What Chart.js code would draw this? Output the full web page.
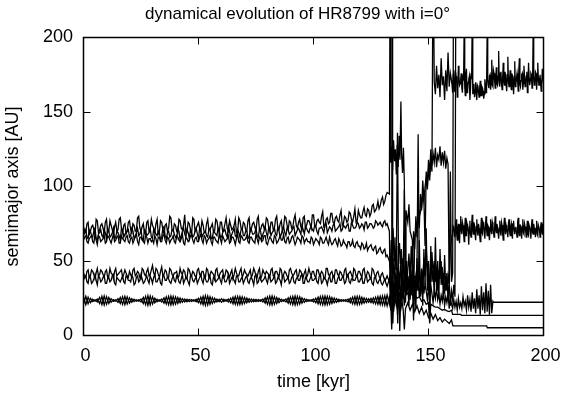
<!DOCTYPE html>
<html>
<head>
<meta charset="utf-8">
<script src="https://cdn.jsdelivr.net/npm/chart.js@4.4.1/dist/chart.umd.min.js"></script>
<style>
  body { margin: 0; background: #fff; }
  canvas { display: block; }
</style>
</head>
<body>
<canvas id="chart" width="561" height="393"></canvas>
<script>
// tick labels
const xTicks = [0, 50, 100, 150, 200];
const yTicks = [0, 50, 100, 150, 200];

// stable part, one sample per kyr (0..132) plus half-kyr samples in the *H arrays
const earlyTime = Array.from({length: 133}, (_, i) => i);
// after the instability, two samples per kyr (160..200) plus quarter samples in *LateH
const lateTime = Array.from({length: 81}, (_, i) => 160 + i * 0.5);

// outer band, upper track
const bTop = [
  73,69,76,70,74,68,77,71,75,69, 78,70,74,68,76,71,79,69,75,70,
  77,69,74,71,80,70,75,68,77,71, 74,69,78,70,76,68,75,72,79,70,
  74,69,77,71,81,70,75,68,78,72, 76,70,74,69,78,71,75,70,77,69,
  76,71,79,70,74,72,78,69,77,71, 75,70,79,72,76,70,80,71,75,73,
  78,70,76,72,80,71,77,73,79,71, 76,73,81,72,78,71,80,74,77,72,
  81,73,78,75,83,74,79,76,82,75, 80,76,84,75,79,77,82,76,85,77,
  81,79,86,80,84,82,88,84,90,87, 93,90,96
];
const bTopH = [
  70,75,68,73,71,78,69,74,72,76, 69,77,71,73,70,78,72,74,68,76,
  71,75,70,79,72,73,69,76,70,78, 72,75,68,77,71,74,70,80,71,75,
  70,78,72,74,69,76,71,79,70,74, 72,77,69,75,71,73,70,78,72,76,
  70,75,72,77,71,74,69,79,72,76, 71,77,70,75,73,78,71,74,72,79,
  73,76,71,78,72,75,70,80,74,77, 72,78,74,76,73,79,72,77,75,81,
  74,77,76,80,73,78,75,82,76,79, 77,81,74,80,76,83,78,80,76,84,
  79,83,81,85,80,87,83,86,85,91, 88,94
];
const bTopChaos = [
  [133,95],[133.3,262],[133.6,116],[134,127],[134.4,111],[134.8,131],[135.2,117],[135.6,125],
  [136,108],[136.4,128],[136.8,113],[137.2,134],[137.6,118],[138,157],[138.3,122],[138.7,109],
  [139.1,126],[139.5,103],[139.8,30],[140.2,84],[141,76],[141.5,88],[142,70],[143,64],[143.5,20],
  [144,66],[145,72],[146,80],[147,86],[147.5,94],[148,90],[148.5,100],[149,106],[149.5,98],
  [150,112],[150.5,104],[151,118],[151.5,110],[152,262],[152.5,170],[153,162],[153.5,181],
  [154,166],[154.5,175],[155,160],[155.5,186],[156,168],[156.5,174],[157,158],[157.5,178],
  [158,164],[158.5,190],[159,167],[159.5,176]
];
const bTopLate = [
  171,163,178,166,174,160,181,168,172,166, 175,205,161,179,164,172,158,176,210,165,
  160,170,158,167,160,171,161,166,159,172, 163,203,168,174,165,185,167,176,166,180,
  168,191,167,177,165,183,168,175,164,187, 167,178,165,174,162,184,168,176,164,186,
  167,175,165,181,167,174,163,183,168,176, 166,204,168,177,165,183,168,175,164,179,
  169
];
const bTopLateH = [
  168,175,164,177,170,165,174,169,176,163, 171,167,175,163,170,174,165,172,162,169,
  165,162,168,163,166,161,167,164,162,168, 169,172,166,175,170,168,178,171,173,169,
  174,170,176,169,173,171,177,168,175,170, 172,169,176,170,174,167,173,171,177,169,
  171,176,169,174,170,177,168,173,171,175, 170,174,169,176,171,173,168,175,170,173
];

// outer band, middle track
const bMid = [
  67,71,65,70,66,72,64,69,67,71, 65,70,67,72,66,69,64,71,68,70,
  66,72,65,69,67,71,64,70,68,72, 65,70,67,69,66,73,65,70,67,71,
  66,72,64,70,68,71,65,69,67,72, 65,71,68,70,66,72,65,69,67,71,
  66,70,68,73,65,70,67,71,66,72, 67,70,65,71,68,72,66,70,68,73,
  66,71,69,72,67,70,68,73,67,71, 69,72,67,71,70,74,68,72,69,73,
  70,73,68,72,71,74,69,73,70,75, 71,73,70,74,72,75,70,74,72,76,
  72,75,71,76,73,75,72,77,74,76, 73,77,75
];
const bMidH = [
  69,66,71,67,70,65,68,71,66,69, 72,66,69,65,70,67,72,66,69,71,
  67,70,66,72,68,65,71,67,69,66, 71,68,70,64,72,67,69,66,71,68,
  65,70,67,72,66,69,71,66,70,68, 72,66,69,67,71,65,70,68,72,66,
  69,71,66,70,68,72,66,69,71,67, 70,66,72,68,69,67,71,65,70,69,
  72,67,70,68,73,66,71,69,72,68, 70,73,69,72,68,71,73,70,72,71,
  74,70,72,73,69,75,71,72,74,70, 72,75,71,73,74,70,76,72,73,75,
  73,74,76,72,75,74,73,76,75,74, 76,74
];
const bMidChaos = [
  [133,70],[133.4,20],[133.8,64],[134.2,58],[134.6,72],[135,50],[135.4,66],[135.8,44],[136.2,60],
  [136.6,8],[137,55],[137.4,62],[137.8,48],[138.2,58],[138.6,40],[139,52],[139.5,35],[140,48],
  [140.5,30],[141,44],[141.5,55],[142,38],[142.5,60],[143,46],[143.5,70],[144,58],[144.5,80],
  [145,66],[145.5,88],[146,72],[146.5,95],[147,84],[147.5,104],[148,92],[148.5,60],[149,110],
  [149.5,100],[150,118],[150.5,108],[151,125],[151.5,114],[152,122],[152.5,116],[153,126],
  [153.5,113],[154,121],[154.5,118],[155,127],[155.5,114],[156,123],[156.5,116],[157,124],
  [157.5,112],[158,119],[158.5,115],[159,32],[159.5,58]
];
const bMidLate = [
  64,70,72,66,78,64,75,62,80,68, 74,63,79,67,73,61,77,66,81,68,
  74,64,78,67,72,63,79,68,75,65, 80,67,73,64,78,68,74,66,80,69,
  73,65,77,67,74,64,79,68,72,66, 78,67,75,65,77,68,73,66,79,67,
  74,65,78,68,73,66,77,67,74,65, 78,68,72,66,77,67,74,66,76,68,
  72
];
const bMidLateH = [
  67,73,69,75,68,72,66,74,70,76, 69,72,67,75,70,73,68,74,71,76,
  68,73,70,75,67,72,69,76,70,73, 71,74,68,72,70,76,69,73,71,75,
  69,72,70,76,68,73,71,74,69,75, 70,73,68,75,71,72,69,76,70,74,
  71,73,69,75,70,72,68,74,71,73, 69,75,70,72,68,74,71,73,70,75
];

// outer band, lower track
const bLow = [
  64,67,62,66,63,68,61,66,64,67, 63,66,62,68,64,67,62,65,63,67,
  62,66,64,68,61,66,63,67,62,65, 64,67,61,66,63,68,62,65,64,67,
  62,66,63,68,61,65,64,67,62,66, 63,68,62,66,64,67,61,66,63,68,
  62,65,64,67,63,66,61,68,62,66, 64,67,62,66,63,68,62,65,64,67,
  61,66,63,67,62,65,64,68,62,66, 63,67,61,66,64,67,62,65,63,66,
  61,65,63,66,62,64,63,66,61,64, 62,65,60,64,61,63,60,64,59,63,
  60,62,58,62,59,61,57,60,56,59, 55,58,54
];
const bLowH = [
  66,63,65,67,62,64,67,63,65,62, 67,64,65,63,66,62,67,64,66,63,
  65,62,67,63,66,64,62,66,65,63, 62,65,66,63,67,64,66,62,65,63,
  67,64,65,62,66,63,67,64,65,63, 66,64,67,62,65,63,66,64,62,65,
  67,63,65,62,66,64,65,63,67,64, 65,63,66,64,62,65,66,63,67,62,
  64,65,62,66,63,67,64,63,65,62, 66,64,63,65,62,66,64,63,62,65,
  63,64,61,65,62,66,61,63,62,65, 60,63,61,62,59,63,61,60,62,60,
  58,61,59,57,60,58,59,55,58,56, 57,53
];
const bLowChaos = [
  [133,50],[133.5,44],[134,57],[134.5,38],[135,52],[135.5,30],[136,47],[136.5,136],[137,44],
  [137.5,36],[138,50],[138.5,26],[139,42],[139.5,98],[140,38],[140.5,46],[141,30],[141.5,40],
  [142,24],[142.5,36],[143,44],[143.5,28],[144,40],[144.5,32],[145,48],[145.5,135],[146,40],
  [146.5,30],[147,45],[147.5,36],[148,52],[148.5,40],[149,58],[149.5,44],[150,50],[150.5,8],
  [151,46],[151.5,56],[152,40],[152.5,50],[153,36],[153.5,46],[154,30],[154.5,44],[155,38],
  [155.5,50],[156,34],[156.5,42],[157,28],[157.5,38],[158,30],[158.5,40],[159,35],[159.5,110],
  [160,36],[160.5,42],[161,320]
];

// middle band, upper track
const cHigh = [
  42,39,44,40,43,38,45,41,43,39, 44,40,42,38,45,41,43,39,44,40,
  43,39,45,41,42,38,44,40,45,41, 47,40,44,39,46,41,43,39,44,40,
  42,39,45,41,43,38,44,40,42,39, 45,40,43,39,44,41,42,38,45,40,
  43,39,44,41,42,38,45,40,43,39, 44,41,42,39,45,40,43,38,44,41,
  42,39,45,40,43,39,44,41,42,38, 45,40,43,39,44,41,42,39,45,40,
  43,39,44,41,42,38,45,40,43,39, 44,40,42,39,45,41,43,38,44,40,
  43,39,45,40,42,38,44,39,43,38, 42,37,40
];
const cHighH = [
  40,43,39,44,41,42,40,44,41,43, 39,45,41,43,40,42,44,41,42,39,
  41,44,40,43,39,45,41,43,40,44, 42,45,41,43,40,44,39,45,41,42,
  43,40,42,44,39,45,41,43,40,44, 41,43,40,45,39,43,41,44,40,42,
  44,40,43,39,44,41,42,40,45,41, 42,40,44,41,43,39,45,40,42,43,
  41,44,40,43,41,45,39,43,40,44, 42,41,44,40,43,39,44,41,42,43,
  40,44,41,43,39,45,41,42,40,44, 41,43,40,44,39,42,41,45,40,43,
  41,44,40,43,39,45,41,42,40,41, 39,38
];
const cHighChaos = [
  [133,36],[133.5,44],[134,30],[134.5,42],[135,26],[135.5,38],[136,33],[136.5,45],[137,28],
  [137.5,40],[138,22],[138.5,36],[139,30],[139.5,42],[140,34],[140.5,27],[141,38],[141.5,31],
  [142,40],[142.5,28],[143,36],[143.5,10],[144,34],[144.5,40],[145,30],[145.5,38],[146,26],
  [146.5,34],[147,30],[147.5,37],[148,28],[148.5,35],[149,30],[149.5,24],[150,32],[150.5,26],
  [151,34],[151.5,28],[152,22],[152.5,30],[153,25],[153.5,32],[154,24],[154.5,28],[155,21],
  [155.5,27],[156,23],[156.5,30],[157,20],[157.5,26],[158,22],[158.5,28],[159,18],[159.5,25]
];
const cHighLate = [
  21,18,24,19,23,17,25,19,22,18, 26,20,23,17,27,19,24,16,29,18,
  25,15,31,18,27,14,33,17,29,15, 35,16,30
];
const cHighTail = [[176.5,14],[177,34],[177.5,15],[178,23],[178.3,22.3],[200,22.3]];

// middle band, lower track
const cLow = [
  37,40,35,39,36,41,34,39,37,40, 35,39,37,41,34,38,36,40,35,39,
  37,40,34,39,36,41,35,38,37,40, 35,41,36,39,34,40,37,38,35,40,
  36,39,35,41,37,38,34,40,36,39, 37,41,35,38,36,40,34,39,37,40,
  35,39,36,41,37,38,35,40,36,39, 37,40,35,39,34,41,36,38,37,40,
  35,39,37,41,36,38,34,40,37,39, 36,40,35,39,37,41,35,38,36,40,
  37,39,35,41,36,38,34,40,36,39, 35,40,37,39,36,41,35,38,37,40,
  36,39,35,40,37,38,34,39,35,38, 34,38,33
];
const cLowH = [
  39,36,40,35,38,37,40,36,39,35, 38,36,40,35,39,37,38,36,40,37,
  36,39,35,40,37,38,36,40,35,38, 39,36,38,35,40,37,39,36,38,37,
  40,36,38,35,39,36,40,37,38,35, 39,37,40,36,38,35,39,36,38,37,
  40,36,38,35,39,37,40,36,38,35, 39,36,38,37,40,35,39,36,38,37,
  40,36,38,35,39,37,40,36,38,35, 39,36,38,37,40,35,39,36,38,37,
  38,36,40,35,39,37,38,36,40,35, 38,37,39,35,40,36,38,37,39,36,
  38,35,39,36,38,35,39,36,37,35, 36,35
];
const cLowChaos = [
  [133,38],[133.5,28],[134,35],[134.5,8],[135,32],[135.5,25],[136,34],[136.5,22],[137,30],
  [137.5,26],[138,31],[138.5,24],[139,29],[139.5,20],[140,30],[141,28],[142,29],[143,27],
  [144,28],[145,25],[146,26],[147,23],[148,24],[149,21],[150,22],[150.5,9],[151,21],[152,20],
  [153,19],[154,19],[155,18],[156,17],[157,17.5],[158,16.5],[159,16],[160,17],[160.5,14.2],
  [164,14.2],[164.3,13.5],[200,13.5]
];

// inner band, two interleaved tracks
const dA = [
  26.0,20.7,25.7,22.0,24.3,23.1,24.5,21.5,26.3,20.5, 26.1,21.5,24.7,22.9,23.9,22.3,25.5,20.9,26.3,21.1,
  25.3,22.3,24.3,23.0,23.9,22.5,25.5,20.7,26.7,20.5, 25.9,21.9,24.3,23.1,24.5,21.7,25.9,20.7,26.5,20.7,
  25.9,21.5,25.1,22.3,24.5,22.7,24.2,22.9,24.0,22.7, 25.0,21.3,26.3,20.3,26.5,20.9,25.5,22.0,24.5,22.7,
  24.7,22.7,24.0,22.5,25.1,21.3,26.1,20.7,26.2,21.1, 25.5,21.9,24.7,22.5,24.3,22.8,24.1,23.1,24.5,21.7,
  26.0,20.6,26.5,20.9,25.5,22.1,24.3,23.1,24.5,21.7, 25.9,20.7,26.5,20.7,25.9,21.7,24.7,22.7,24.0,23.1,
  24.5,21.9,25.7,20.9,26.4,20.5,26.3,21.0,25.5,21.9, 24.7,22.7,24.1,23.0,24.1,22.5,25.1,21.3,26.1,20.7,
  26.1,21.3,25.3,22.1,24.7,22.1,25.3,21.3,26.1,20.7, 26.5,20.3,27.1
];
const dAChaos = [
  [133,21],[133.5,26],[134,4],[134.5,24],[135,19],[135.5,25],[136,20],[136.5,26],[137,21],
  [137.5,24],[138,18],[138.5,23],[139,17],[139.5,4],[140,18],[141,22],[142,17],[143,21],
  [144,16],[145,20],[146,15],[147,19],[148,14],[149,17],[150,12],[151,15],[152,11],[153,14],
  [154,10],[155,12],[156,9],[157,11],[158,9.5],[159,8],[160,10.4],[160.6,6.4],[175.3,6.4],
  [175.6,5.2],[200,5.2]
];
const dB = [
  21.0,26.3,21.3,25.0,22.7,23.9,22.5,25.5,20.7,26.5, 20.9,25.5,22.3,24.1,23.1,24.7,21.5,26.1,20.7,25.9,
  21.7,24.7,22.7,24.0,23.1,24.5,21.5,26.3,20.3,26.5, 21.1,25.1,22.7,23.9,22.5,25.3,21.1,26.3,20.5,26.3,
  21.1,25.5,21.9,24.7,22.5,24.3,22.8,24.1,23.0,24.3, 22.0,25.7,20.7,26.7,20.5,26.1,21.5,25.0,22.5,24.3,
  22.3,24.3,23.0,24.5,21.9,25.7,20.9,26.3,20.8,25.9, 21.5,25.1,22.3,24.5,22.7,24.2,22.9,23.9,22.5,25.3,
  21.0,26.4,20.5,26.1,21.5,24.9,22.7,23.9,22.5,25.3, 21.1,26.3,20.5,26.3,21.1,25.3,22.3,24.3,23.0,23.9,
  22.5,25.1,21.3,26.1,20.6,26.5,20.7,26.0,21.5,25.1, 22.3,24.3,22.9,24.0,22.9,24.5,21.9,25.7,20.9,26.3,
  20.9,25.7,21.7,24.9,22.3,24.9,21.7,25.7,20.9,26.3, 20.5,26.7,19.9
];
const dBChaos = [
  [133,26],[133.5,18],[134,16],[134.2,280],[134.4,28],[134.8,16],[135,34],[135.5,22],[136,40],
  [136.5,14],[137,36],[137.5,3],[138,30],[138.5,44],[139,26],[139.5,38],[140,22],[140.5,50],
  [141,32],[141.5,20],[142,46],[142.5,28],[143,56],[143.5,24],[144,40],[144.5,18],[145,52],
  [145.5,30],[146,64],[146.5,26],[147,44],[147.5,20],[148,58],[148.5,34],[149,72],[149.5,30],
  [150,48],[150.5,22],[151,60],[151.5,36],[152,44],[152.5,28],[153,66],[153.5,32],[154,50],
  [154.5,26],[155,58],[155.5,34],[156,46],[156.5,24],[157,54],[157.5,30],[158,42],[158.5,24],
  [159,36],[159.5,20],[160,30],[160.5,24],[161,34],[161.5,26],[162,310]
];

function track(early, half, chaos, late, lateHalf, tail) {
  const pts = [];
  early.forEach((v, i) => {
    pts.push({x: earlyTime[i], y: v});
    if (half && i < half.length) pts.push({x: earlyTime[i] + 0.5, y: half[i]});
  });
  chaos.forEach(([x, y]) => pts.push({x, y}));
  (late || []).forEach((v, i) => {
    pts.push({x: lateTime[i], y: v});
    if (lateHalf && i < lateHalf.length) pts.push({x: lateTime[i] + 0.25, y: lateHalf[i]});
  });
  (tail || []).forEach(([x, y]) => pts.push({x, y}));
  return pts;
}

const tracks = [
  track(dA, null, dAChaos),
  track(dB, null, dBChaos),
  track(cLow, cLowH, cLowChaos),
  track(cHigh, cHighH, cHighChaos, cHighLate, null, cHighTail),
  track(bLow, bLowH, bLowChaos),
  track(bMid, bMidH, bMidChaos, bMidLate, bMidLateH),
  track(bTop, bTopH, bTopChaos, bTopLate, bTopLateH)
];

const frame = {
  id: 'frame',
  afterDatasetsDraw(chart) {
    const {ctx, chartArea: a, scales: {x, y}} = chart;
    ctx.save();
    ctx.strokeStyle = '#000';
    ctx.lineWidth = 1;
    ctx.beginPath();
    xTicks.forEach(v => {
      const px = Math.floor(x.getPixelForValue(v)) + 0.5;
      ctx.moveTo(px, a.bottom); ctx.lineTo(px, a.bottom - 7);
      ctx.moveTo(px, a.top); ctx.lineTo(px, a.top + 7);
    });
    yTicks.forEach(v => {
      const py = Math.floor(y.getPixelForValue(v)) + 0.5;
      ctx.moveTo(a.left, py); ctx.lineTo(a.left + 7, py);
      ctx.moveTo(a.right, py); ctx.lineTo(a.right - 7, py);
    });
    ctx.stroke();
    ctx.lineWidth = 1.5;
    ctx.strokeRect(a.left, a.top, a.right - a.left, a.bottom - a.top);
    ctx.restore();
  }
};

Chart.defaults.font.family = '"Liberation Sans", Arial, sans-serif';
Chart.defaults.font.size = 18;
Chart.defaults.color = '#000';

new Chart(document.getElementById('chart').getContext('2d'), {
  type: 'line',
  data: {
    datasets: tracks.map(pts => ({
      data: pts,
      borderColor: '#000',
      borderWidth: 1.3,
      pointRadius: 0,
      tension: 0,
      fill: false
    }))
  },
  options: {
    responsive: false,
    animation: false,
    devicePixelRatio: 1,
    parsing: false,
    layout: { padding: { left: 34 } },
    plugins: {
      legend: { display: false },
      tooltip: { enabled: false },
      title: {
        display: true,
        text: 'dynamical evolution of HR8799 with i=0°',
        font: { size: 17, weight: 'normal' },
        color: '#000',
        padding: { top: 3.8, bottom: 13.3 }
      }
    },
    scales: {
      x: {
        type: 'linear',
        min: 0,
        max: 200,
        grid: { display: false },
        border: { display: false },
        ticks: { stepSize: 50, padding: 1.5, labelOffset: 2, maxRotation: 0 },
        title: { display: true, text: 'time [kyr]', padding: { top: 0, bottom: 0 } },
        afterFit: s => { s.height = 57.5; s.paddingLeft = 0; s.paddingRight = 0; }
      },
      y: {
        min: 0,
        max: 200,
        grid: { display: false },
        border: { display: false },
        ticks: { stepSize: 50, padding: 2.5 },
        title: { display: true, text: 'semimajor axis [AU]', padding: { top: -31.8, bottom: 0 } },
        afterFit: s => { s.width = 49.5; }
      },
      y2: {
        position: 'right',
        grid: { display: false },
        border: { display: false },
        ticks: { display: false },
        afterFit: s => { s.width = 17.5; }
      }
    }
  },
  plugins: [frame]
});
</script>
</body>
</html>
